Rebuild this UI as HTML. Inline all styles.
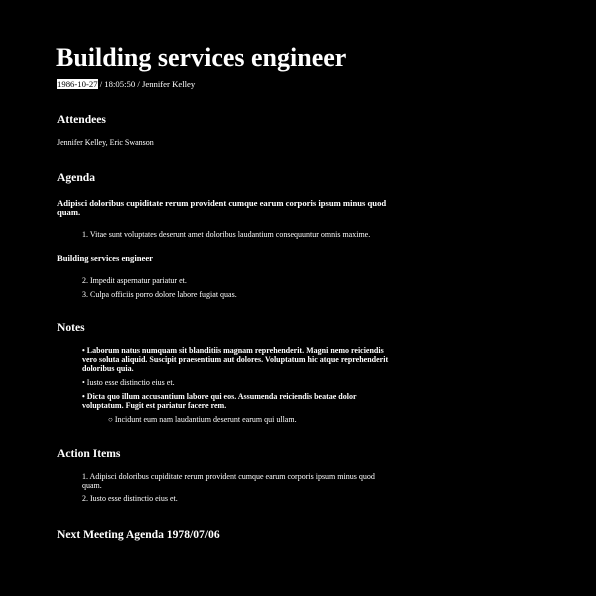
<!DOCTYPE html>
<html><head><meta charset="utf-8"><style>
html,body{margin:0;padding:0;background:#000;width:596px;height:596px;overflow:hidden}
body{font-family:"Liberation Serif",serif;color:#fff;position:relative}
.a{position:absolute;white-space:nowrap;line-height:9px;font-size:8px}
.h{font-weight:bold;font-size:11.6px;line-height:14px}
.b{font-weight:bold;font-size:8.6px}
.n{font-weight:bold;font-size:8px}
mark{background:#fff;color:#000}
</style></head><body>
<div class="a b" style="left:56px;top:42px;font-size:26px;line-height:32px">Building services engineer</div>
<div class="a" style="left:57px;top:79px;font-size:8.7px;line-height:10px"><mark>1986-10-27</mark> / 18:05:50 / Jennifer Kelley</div>
<div class="a h" style="left:57px;top:113px">Attendees</div>
<div class="a" style="left:57px;top:138px">Jennifer Kelley, Eric Swanson</div>
<div class="a h" style="left:57px;top:171px">Agenda</div>
<div class="a b" style="left:57px;top:199px">Adipisci doloribus cupiditate rerum provident cumque earum corporis ipsum minus quod<br>quam.</div>
<div class="a" style="left:82px;top:230px">1. Vitae sunt voluptates deserunt amet doloribus laudantium consequuntur omnis maxime.</div>
<div class="a b" style="left:57px;top:254px">Building services engineer</div>
<div class="a" style="left:82px;top:276px">2. Impedit aspernatur pariatur et.</div>
<div class="a" style="left:82px;top:290px">3. Culpa officiis porro dolore labore fugiat quas.</div>
<div class="a h" style="left:57px;top:321px">Notes</div>
<div class="a n" style="left:82px;top:346px">• Laborum natus numquam sit blanditiis magnam reprehenderit. Magni nemo reiciendis<br>vero soluta aliquid. Suscipit praesentium aut dolores. Voluptatum hic atque reprehenderit<br>doloribus quia.</div>
<div class="a" style="left:82px;top:378px">• Iusto esse distinctio eius et.</div>
<div class="a n" style="left:82px;top:392px">• Dicta quo illum accusantium labore qui eos. Assumenda reiciendis beatae dolor<br>voluptatum. Fugit est pariatur facere rem.</div>
<div class="a" style="left:108px;top:415px">○ Incidunt eum nam laudantium deserunt earum qui ullam.</div>
<div class="a h" style="left:57px;top:447px">Action Items</div>
<div class="a" style="left:82px;top:472px">1. Adipisci doloribus cupiditate rerum provident cumque earum corporis ipsum minus quod<br>quam.</div>
<div class="a" style="left:82px;top:494px">2. Iusto esse distinctio eius et.</div>
<div class="a h" style="left:57px;top:528px">Next Meeting Agenda 1978/07/06</div>
</body></html>
